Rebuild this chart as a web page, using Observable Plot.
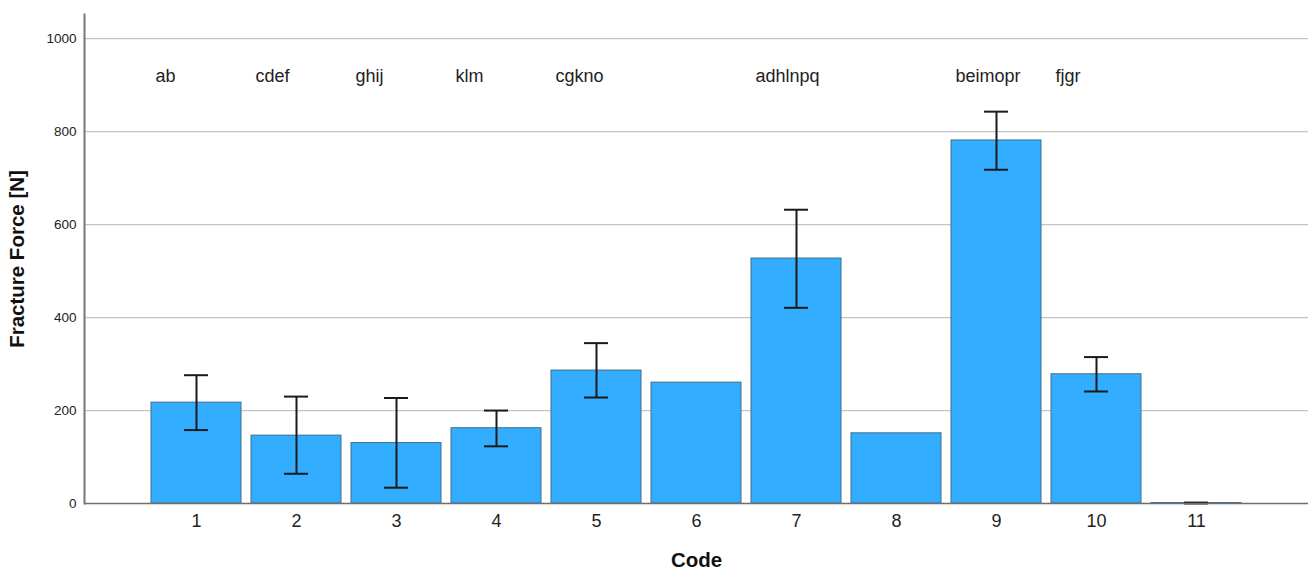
<!DOCTYPE html>
<html>
<head>
<meta charset="utf-8">
<script src="https://cdn.jsdelivr.net/npm/d3@7"></script>
<script src="https://cdn.jsdelivr.net/npm/@observablehq/plot@0.6"></script>
<style>
  html, body { margin: 0; padding: 0; background: #fff; }
  #chart svg { display: block; }
</style>
</head>
<body>
<div id="chart"></div>
<script>
const codes = [1, 2, 3, 4, 5, 6, 7, 8, 9, 10, 11];
const means = [217, 146, 130, 162, 286, 260, 527, 151, 781, 278, 1];
const errLow = [158, 64, 34, 123, 228, null, 421, null, 718, 241, 0];
const errHigh = [276, 230, 227, 200, 345, null, 632, null, 843, 315, 2];
const groupLetters = ["ab", "cdef", "ghij", "klm", "cgkno", "", "adhlnpq", "", "beimopr", "fjgr", ""];
const yTicks = [0, 200, 400, 600, 800, 1000];
const letterLevel = 920;

const bars = codes.map((c, i) => ({code: c, mean: means[i]}));
const errs = codes.map((c, i) => ({code: c, lo: errLow[i], hi: errHigh[i]})).filter(d => d.lo != null);
const letters = codes.map((c, i) => ({code: c, label: groupLetters[i]})).filter(d => d.label !== "");

const font = "'Liberation Sans', Arial, sans-serif";

const chart = Plot.plot({
  width: 1308,
  height: 572,
  marginLeft: 84,
  marginRight: 0,
  marginTop: 14,
  marginBottom: 69,
  style: {fontFamily: font, color: "#222", background: "#fff"},
  x: {type: "band", domain: codes, paddingInner: 0.1, paddingOuter: 0.66, label: null},
  y: {domain: [0, 1052], label: null},
  marks: [
    Plot.gridY(yTicks.filter(d => d > 0), {stroke: "#c4c4c4", strokeOpacity: 1, strokeWidth: 1.3}),
    Plot.barY(bars, {x: "code", y: "mean", fill: "#33adff", stroke: "#3f6f8c", strokeWidth: 1}),
    Plot.ruleX(errs, {x: "code", y1: "lo", y2: "hi", stroke: "#1a1a1a", strokeWidth: 2}),
    Plot.tickY(errs, {x: "code", y: "lo", stroke: "#1a1a1a", strokeWidth: 2, insetLeft: 33, insetRight: 33}),
    Plot.tickY(errs, {x: "code", y: "hi", stroke: "#1a1a1a", strokeWidth: 2, insetLeft: 33, insetRight: 33}),
    Plot.ruleY([0], {stroke: "#6e6e6e", strokeWidth: 1.5}),
    Plot.frame({anchor: "left", stroke: "#777", strokeWidth: 2}),
    Plot.text(letters, {x: "code", y: () => letterLevel, text: "label", textAnchor: "start", dx: -41, fontSize: 18, fill: "#222"}),
    Plot.axisY({ticks: yTicks, tickFormat: d => String(d), tickSize: 0, tickPadding: 8, fontSize: 13.5, label: null}),
    Plot.axisX({tickSize: 0, tickPadding: 11, fontSize: 18, label: null}),
    Plot.text(["Code"], {frameAnchor: "bottom", dy: 63, fontSize: 20.5, fontWeight: "bold", fill: "#111"}),
    Plot.text(["Fracture Force [N]"], {frameAnchor: "left", textAnchor: "middle", rotate: -90, dx: -67, fontSize: 20.5, fontWeight: "bold", fill: "#111"})
  ]
});
document.getElementById("chart").appendChild(chart);
</script>
</body>
</html>
